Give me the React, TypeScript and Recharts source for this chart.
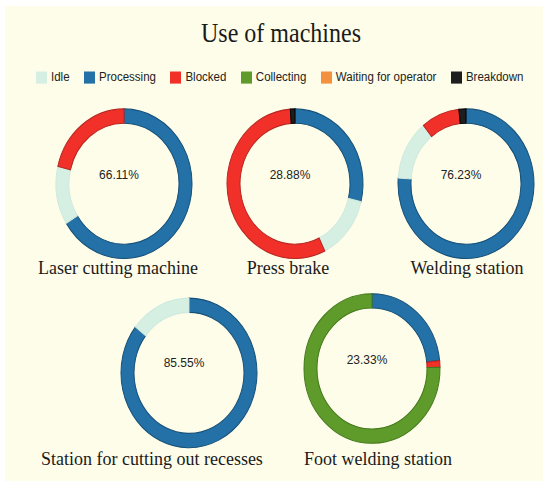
import React from 'react';
import { PieChart, Pie, Cell } from 'recharts';

// ---- data ----
const categories = ['Idle', 'Processing', 'Blocked', 'Collecting', 'Waiting for operator', 'Breakdown'];
const sliceOrder = ['Processing', 'Idle', 'Blocked', 'Collecting', 'Waiting for operator', 'Breakdown'];
const machines = [
  'Laser cutting machine',
  'Press brake',
  'Welding station',
  'Station for cutting out recesses',
  'Foot welding station',
];
const processing = [66.11, 28.88, 76.23, 85.55, 23.33];
const idle = [12.6, 13.9, 13.0, 14.45, 0];
const blocked = [21.29, 56.12, 9.1, 0, 1.4];
const collecting = [0, 0, 0, 0, 75.27];
const waiting = [0, 0, 0, 0, 0];
const breakdown = [0, 1.1, 1.67, 0, 0];

const seriesByName: Record<string, number[]> = {
  Idle: idle,
  Processing: processing,
  Blocked: blocked,
  Collecting: collecting,
  'Waiting for operator': waiting,
  Breakdown: breakdown,
};

// ---- styles ----
const fills: Record<string, string> = {
  Idle: '#d6efe3',
  Processing: '#2371a6',
  Blocked: '#f2302a',
  Collecting: '#5e9b2a',
  'Waiting for operator': '#f3913f',
  Breakdown: '#1e1e1e',
};
const strokes: Record<string, string> = {
  Idle: '#d0eadf',
  Processing: '#17517a',
  Blocked: '#b92620',
  Collecting: '#447a1c',
  'Waiting for operator': '#c46a22',
  Breakdown: '#000000',
};

const S = 1.1;
const W = 550;
const H = Math.round(490 / S);

const layout = [
  { cx: 119, cy: 162, py: 159, nx: 118, ny: 249 },
  { cx: 290, cy: 162, py: 159, nx: 288, ny: 249 },
  { cx: 461, cy: 162, py: 159, nx: 467, ny: 249 },
  { cx: 184, cy: 334, py: 330, nx: 152, ny: 423 },
  { cx: 367, cy: 330, py: 327, nx: 378, ny: 423 },
];

const serif = '"Liberation Serif", "Times New Roman", serif';
const sans = '"Liberation Sans", Arial, sans-serif';

const pieData = machines.map((m, i) =>
  sliceOrder
    .map((name) => ({ name, value: seriesByName[name][i] }))
    .filter((d) => d.value > 0)
);

const LegendContent = () => (
  <div
    style={{
      position: 'absolute',
      left: 36,
      top: 63,
      display: 'flex',
      alignItems: 'center',
      fontFamily: sans,
      fontSize: 11.5,
      lineHeight: '14px',
      color: '#222',
      whiteSpace: 'nowrap',
    }}
  >
    {categories.map((c, i) => (
      <div key={c} style={{ display: 'flex', alignItems: 'center', marginRight: i < categories.length - 1 ? 14.5 : 0 }}>
        <span
          style={{
            display: 'inline-block',
            width: 11,
            height: 11,
            background: fills[c],
            marginRight: 4,
          }}
        />
        <span>{c}</span>
      </div>
    ))}
  </div>
);

export default function App() {
  return (
    <div style={{ position: 'fixed', left: 0, top: 0, width: 550, height: 490, background: '#ffffff', overflow: 'hidden' }}>
      <div style={{ position: 'absolute', left: 5, top: 6, width: 538, height: 475, background: '#fefde9' }} />
      <div
        style={{
          position: 'absolute',
          left: 0,
          top: 0,
          width: W,
          height: H,
          transform: `scaleY(${S})`,
          transformOrigin: '0 0',
        }}
      >
        <div
          style={{
            position: 'absolute',
            left: 0,
            top: 18,
            width: W,
            textAlign: 'center',
            fontFamily: serif,
            fontSize: 24,
            lineHeight: '24px',
            color: '#1a1a1a',
            paddingLeft: 12,
            boxSizing: 'border-box',
          }}
        >
          Use of machines
        </div>
        <LegendContent />
        <div style={{ position: 'absolute', left: 0, top: 0 }}>
          <PieChart width={W} height={H}>
            {pieData.map((data, i) => (
              <Pie
                key={machines[i]}
                data={data}
                dataKey="value"
                nameKey="name"
                cx={layout[i].cx}
                cy={layout[i].cy}
                innerRadius={55}
                outerRadius={68}
                startAngle={90}
                endAngle={-270}
                isAnimationActive={false}
                strokeWidth={1}
              >
                {data.map((d) => (
                  <Cell key={d.name} fill={fills[d.name]} stroke={strokes[d.name]} />
                ))}
              </Pie>
            ))}
            {machines.map((m, i) => (
              <text
                key={'p' + m}
                x={layout[i].cx}
                y={layout[i].py}
                textAnchor="middle"
                dominantBaseline="central"
                fontFamily={sans}
                fontSize={12}
                fill="#222"
              >
                {processing[i].toFixed(2) + '%'}
              </text>
            ))}
            {machines.map((m, i) => (
              <text
                key={'n' + m}
                x={layout[i].nx}
                y={layout[i].ny}
                textAnchor="middle"
                fontFamily={serif}
                fontSize={18}
                fill="#1a1a1a"
              >
                {m}
              </text>
            ))}
          </PieChart>
        </div>
      </div>
    </div>
  );
}
